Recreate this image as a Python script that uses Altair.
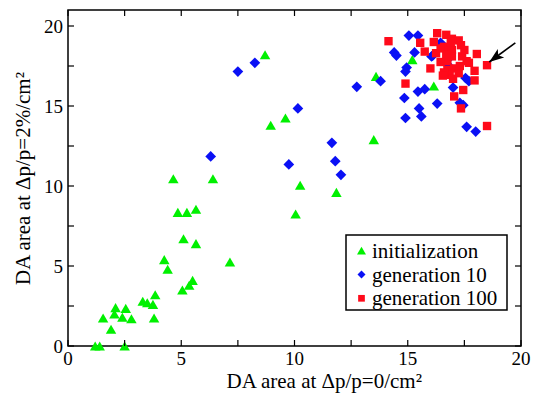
import altair as alt
import pandas as pd

# ---- data ----
green_x = [1.2, 1.4, 2.5, 1.55, 1.9, 2.1, 2.05, 2.4, 2.55, 2.8, 3.3, 3.5, 3.75, 3.85, 3.8,
           4.25, 4.4, 5.05, 5.35, 5.5, 5.1, 5.65, 4.85, 5.25, 5.65, 4.65, 6.4, 7.15,
           10.05, 10.25, 8.7, 9.6, 8.95, 11.85, 13.5, 13.6, 15.2, 16.15]
green_y = [0.0, 0.0, 0.0, 1.75, 1.05, 2.4, 2.0, 1.8, 2.35, 1.7, 2.8, 2.7, 2.6, 3.2, 1.75,
           5.4, 4.8, 3.5, 3.8, 4.1, 6.7, 6.4, 8.35, 8.35, 8.55, 10.45, 10.45, 5.25,
           8.25, 10.05, 18.2, 14.25, 13.8, 9.6, 12.9, 16.85, 17.9, 16.25]

blue_x = [6.3, 7.5, 8.25, 9.75, 10.15, 11.65, 11.8, 12.05, 12.75, 13.8, 14.4, 14.5, 15.05,
          15.45, 15.3, 14.95, 14.9, 15.45, 15.75, 14.85, 15.5, 15.6, 14.9, 16.3, 16.05,
          16.45, 16.9, 16.75, 17.0, 17.3, 17.45, 17.6, 18.0, 17.55, 17.7, 16.1]
blue_y = [11.85, 17.15, 17.7, 11.35, 14.85, 12.7, 11.55, 10.7, 16.2, 16.55, 18.35, 18.15, 19.4,
          19.4, 18.35, 17.4, 17.15, 15.9, 16.05, 15.5, 14.85, 14.35, 14.25, 15.15, 18.1,
          18.95, 18.1, 17.6, 16.15, 15.2, 15.05, 13.7, 13.4, 16.75, 16.55, 18.15]

red_x = [14.15, 15.55, 15.75, 14.9, 16.0, 16.3, 16.15, 16.7, 16.95, 17.25, 17.35, 16.6, 16.25,
         16.45, 16.95, 16.75, 16.95, 17.4, 18.05, 17.7, 18.5, 16.75, 17.05, 17.25, 16.85,
         17.0, 17.95, 17.95, 17.45, 17.05, 17.35, 18.5, 17.6, 16.45, 16.6, 17.3, 16.7,
         16.9, 17.5, 16.55]
red_y = [19.05, 18.95, 18.4, 16.4, 17.35, 19.55, 19.0, 19.45, 19.2, 19.1, 18.8, 18.7, 18.3,
         18.6, 18.5, 17.8, 18.1, 18.1, 18.25, 17.7, 17.55, 17.25, 17.35, 17.05, 16.95,
         16.7, 17.2, 16.6, 16.0, 15.6, 14.85, 13.75, 17.8, 17.75, 17.1, 17.5, 18.2,
         19.0, 18.5, 16.9]

series_names = ["initialization", "generation 10", "generation 100"]
series_colors = ["#00f000", "#0a10f5", "#ff0a1a"]
series_shapes = ["triangle-up", "diamond", "square"]
series_sizes = [110, 115, 70]
legend_sizes = [80, 65, 45]

tick_values = [0, 2.5, 5, 7.5, 10, 12.5, 15, 17.5, 20]
label_values = [0, 5, 10, 15, 20]

x_title = "DA area at \u0394p/p=0/cm\u00b2"
y_title = "DA area at \u0394p/p=2%/cm\u00b2"

arrow_x = [19.75, 18.6]
arrow_y = [18.95, 17.75]

# ---- tables ----
rows = []
for name, sz, xs, ys in zip(series_names, series_sizes, [green_x, blue_x, red_x], [green_y, blue_y, red_y]):
    for a, b in zip(xs, ys):
        rows.append({"x": a, "y": b, "series": name, "sz": sz})
pts = pd.DataFrame(rows)
ticks = pd.DataFrame({"x": tick_values, "y": tick_values})
labels = pd.DataFrame({"x": label_values, "y": label_values, "txt": [str(v) for v in label_values]})
arrow_line = pd.DataFrame({"x": [arrow_x[0]], "y": [arrow_y[0]], "x2": [arrow_x[1]], "y2": [arrow_y[1]]})
arrow_head = pd.DataFrame({"x": [arrow_x[1]], "y": [arrow_y[1]]})

W, H = 453, 336
FONT = "Liberation Serif"
TL = 6

xscale = alt.Scale(domain=[0, 20], nice=False, zero=False)
yscale = alt.Scale(domain=[0, 21], nice=False, zero=False)

xaxis = alt.Axis(title=x_title, labels=False, ticks=False, domain=False, grid=False,
                 titleFont=FONT, titleFontSize=21, titleFontWeight="normal", titleColor="black",
                 titleX=158, titleY=41.5, titleAlign="left", titleBaseline="alphabetic")
yaxis = alt.Axis(title=y_title, labels=False, ticks=False, domain=False, grid=False,
                 titleFont=FONT, titleFontSize=21, titleFontWeight="normal", titleColor="black",
                 titleX=-39, titleY=H / 2, titleAngle=270, titleAlign="center",
                 titleBaseline="alphabetic")

points = alt.Chart(pts).mark_point(filled=True, opacity=1, strokeWidth=0).encode(
    x=alt.X("x:Q", scale=xscale, axis=xaxis),
    y=alt.Y("y:Q", scale=yscale, axis=yaxis),
    color=alt.Color("series:N", scale=alt.Scale(domain=series_names, range=series_colors), legend=None),
    shape=alt.Shape("series:N", scale=alt.Scale(domain=series_names, range=series_shapes), legend=None),
    size=alt.Size("sz:Q", scale=None, legend=None),
    order=alt.Order("idx:Q"),
).transform_window(idx="row_number()")

def xr(y0, y1):
    return alt.Chart(ticks).mark_rule(color="black", strokeWidth=1.2).encode(
        x=alt.X("x:Q"), y=alt.value(y0), y2=alt.value(y1))

def yr(x0, x1):
    return alt.Chart(ticks).mark_rule(color="black", strokeWidth=1.2).encode(
        y=alt.Y("y:Q"), x=alt.value(x0), x2=alt.value(x1))

tick_layers = [xr(H, H - TL), xr(0, TL), yr(0, TL), yr(W, W - TL)]

xlab = alt.Chart(labels).mark_text(font=FONT, fontSize=19, color="black", align="center",
                                   baseline="alphabetic").encode(
    x=alt.X("x:Q"), y=alt.value(H + 18.5), text="txt:N")
ylab = alt.Chart(labels).mark_text(font=FONT, fontSize=19, color="black", align="right",
                                   baseline="alphabetic", dy=6.5).encode(
    y=alt.Y("y:Q"), x=alt.value(-5), text="txt:N")

arrow_rule = alt.Chart(arrow_line).mark_rule(color="black", strokeWidth=1.6).encode(
    x="x:Q", y="y:Q", x2="x2:Q", y2="y2:Q")
arrow_tip = alt.Chart(arrow_head).mark_point(
    shape="M0,0L-0.55,1.5L0,1.15L0.55,1.5Z", filled=True, color="black", size=380,
    angle=233, opacity=1, strokeWidth=0).encode(x="x:Q", y="y:Q")

# ---- legend drawn by hand ----
LX, LY, LW, LH = 278, 225, 161, 75
ROW0, ROWSTEP = 15.7, 23.8
legend_box = alt.Chart(pd.DataFrame({"k": [0]})).mark_rect(
    fill="white", stroke="black", strokeWidth=1.5).encode(
    x=alt.value(LX), x2=alt.value(LX + LW), y=alt.value(LY), y2=alt.value(LY + LH))
legend_layers = [legend_box]
for i, name in enumerate(series_names):
    row = pd.DataFrame({"label": [name]})
    yy = LY + ROW0 + ROWSTEP * i
    legend_layers.append(alt.Chart(row).mark_point(
        shape=series_shapes[i], filled=True, color=series_colors[i], size=legend_sizes[i],
        opacity=1, strokeWidth=0).encode(x=alt.value(LX + 15.5), y=alt.value(yy)))
    legend_layers.append(alt.Chart(row).mark_text(
        font=FONT, fontSize=21, color="black", align="left", baseline="alphabetic", dy=7).encode(
        x=alt.value(LX + 26), y=alt.value(yy), text="label:N"))

chart = alt.layer(points, *tick_layers, xlab, ylab, arrow_rule, arrow_tip, *legend_layers).properties(
    width=W, height=H,
    autosize=alt.AutoSizeParams(type="none"),
    padding={"left": 68, "top": 10, "right": 14, "bottom": 48},
).configure(font=FONT).configure_view(stroke="black", strokeWidth=1.5)

chart.save("out.html", embed_options={"renderer": "svg", "actions": False})
